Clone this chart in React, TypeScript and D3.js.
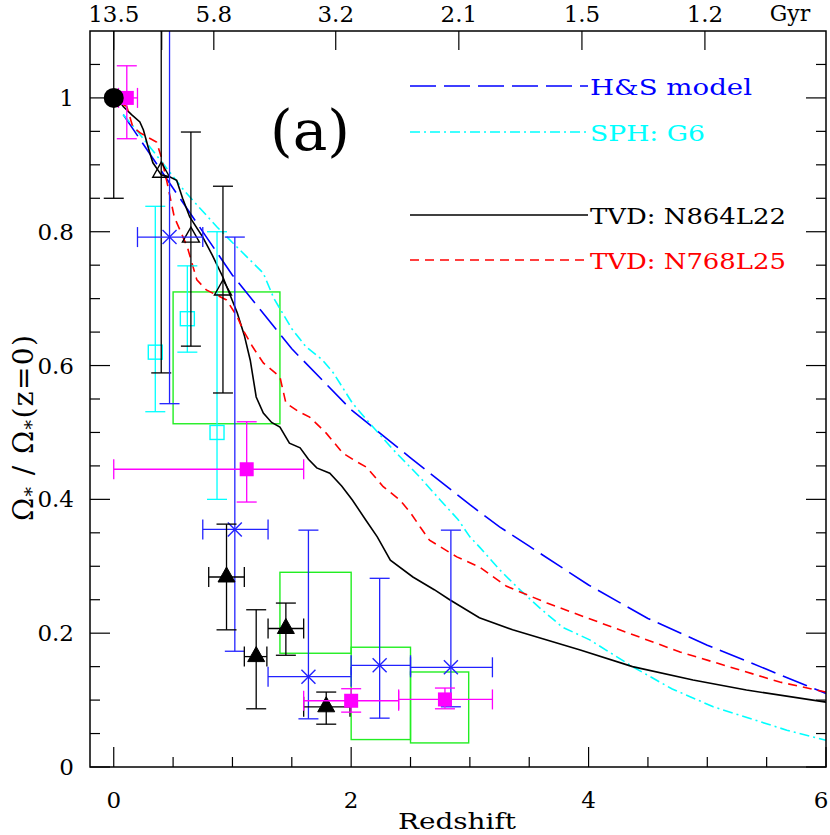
import * as d3 from 'd3';

// model curves: [redshift, Omega*/Omega*(z=0)]
const hsModel: [number, number][] = [
  [0.08, 0.975], [0.5, 0.865], [1.0, 0.735], [1.5, 0.625], [2.0, 0.534], [2.5, 0.462],
  [3.0, 0.392], [3.25, 0.359], [3.5, 0.33], [4.0, 0.272], [4.5, 0.222], [5.0, 0.182],
  [5.5, 0.146], [6.0, 0.11],
];

const sphG6: [number, number][] = [
  [0.08, 0.975], [0.2, 0.95], [0.41, 0.903], [0.6, 0.86], [0.87, 0.807], [1.05, 0.775],
  [1.26, 0.738], [1.35, 0.7], [1.5, 0.655], [1.62, 0.628], [1.76, 0.608], [1.85, 0.589],
  [2.01, 0.544], [2.13, 0.519], [2.35, 0.475], [2.58, 0.433], [2.75, 0.399], [2.9, 0.37],
  [3.0, 0.344], [3.08, 0.329], [3.25, 0.295], [3.42, 0.265], [3.6, 0.236], [3.78, 0.209],
  [4.01, 0.19], [4.37, 0.15], [4.7, 0.117], [5.05, 0.09], [5.67, 0.055], [6.0, 0.04],
];

const tvdN864: [number, number][] = [
  [0.05, 0.995], [0.08, 0.987], [0.15, 0.975], [0.22, 0.964], [0.25, 0.952], [0.3, 0.92],
  [0.33, 0.903], [0.4, 0.885], [0.47, 0.882], [0.53, 0.877], [0.58, 0.85], [0.64, 0.822],
  [0.75, 0.792], [0.83, 0.765], [0.92, 0.732], [1.04, 0.679], [1.1, 0.645], [1.15, 0.608],
  [1.2, 0.553], [1.26, 0.529], [1.33, 0.515], [1.4, 0.508], [1.48, 0.484], [1.57, 0.477],
  [1.64, 0.46], [1.71, 0.447], [1.82, 0.439], [1.92, 0.42], [2.01, 0.399], [2.12, 0.37],
  [2.22, 0.344], [2.33, 0.309], [2.52, 0.284], [2.7, 0.265], [2.83, 0.25], [3.08, 0.223],
  [3.36, 0.205], [3.93, 0.175], [4.37, 0.15], [4.88, 0.13], [5.33, 0.115], [6.0, 0.097],
];

const tvdN768: [number, number][] = [
  [0.08, 0.99], [0.11, 0.987], [0.16, 0.957], [0.22, 0.948], [0.28, 0.942], [0.36, 0.934],
  [0.4, 0.912], [0.45, 0.873], [0.51, 0.822], [0.62, 0.777], [0.7, 0.728], [0.78, 0.713],
  [0.87, 0.705], [0.95, 0.698], [1.04, 0.673], [1.09, 0.653], [1.17, 0.628], [1.26, 0.604],
  [1.4, 0.583], [1.45, 0.544], [1.55, 0.532], [1.65, 0.523], [1.79, 0.499], [1.93, 0.469],
  [2.03, 0.458], [2.13, 0.448], [2.27, 0.419], [2.41, 0.399], [2.5, 0.38], [2.58, 0.359],
  [2.66, 0.339], [2.89, 0.314], [3.08, 0.299], [3.31, 0.27], [3.65, 0.245], [4.2, 0.209],
  [4.77, 0.172], [5.61, 0.127], [6.0, 0.112],
];

// observations: [z, value, zLo, zHi, lo, hi]  (null = no bar in that direction)
type Obs = [number, number, number | null, number | null, number, number];

const localPoint: Obs[] = [[0, 1.0, null, null, 0.85, 1.2]];
const magentaPts: Obs[] = [
  [0.11, 1.0, 0.04, 0.2, 0.939, 1.048],
  [1.12, 0.445, 0.0, 1.6, 0.396, 0.516],
  [2.0, 0.099, 1.6, 2.4, 0.082, 0.117],
  [2.79, 0.101, 2.4, 3.19, 0.087, 0.118],
];
const openTriPts: Obs[] = [
  [0.4, 0.889, null, null, 0.589, 1.2],
  [0.65, 0.792, null, null, 0.629, 0.949],
  [0.92, 0.713, null, null, 0.559, 0.868],
];
const crossPts: Obs[] = [
  [0.47, 0.792, 0.2, 0.75, 0.543, 1.2],
  [1.02, 0.355, 0.75, 1.3, 0.173, 0.792],
  [1.64, 0.135, 1.3, 2.0, 0.072, 0.354],
  [2.24, 0.152, 2.0, 2.5, 0.073, 0.282],
  [2.84, 0.149, 2.5, 3.19, 0.09, 0.354],
];
const cyanPts: Obs[] = [
  [0.35, 0.62, null, null, 0.531, 0.838],
  [0.62, 0.67, null, null, 0.62, 0.749],
  [0.87, 0.5, null, null, 0.4, 0.8],
];
const filledTriPts: Obs[] = [
  [0.95, 0.284, 0.8, 1.1, 0.205, 0.363],
  [1.2, 0.165, 1.1, 1.29, 0.087, 0.235],
  [1.45, 0.207, 1.3, 1.6, 0.167, 0.245],
  [1.79, 0.09, 1.6, 1.99, 0.064, 0.112],
];
// green boxes: [zLo, zHi, lo, hi]
const boxes: [number, number, number, number][] = [
  [0.5, 1.4, 0.513, 0.71],
  [1.4, 2.0, 0.17, 0.291],
  [2.0, 2.5, 0.041, 0.179],
  [2.5, 2.99, 0.036, 0.142],
];

// top axis: lookback time ticks (at redshift) and labels
const gyrTicks = [0, 0.404, 0.843, 1.87, 2.907, 3.944, 4.98];
const gyrLabels = ['13.5', '', '5.8', '3.2', '2.1', '1.5', '1.2'];
const xLabels = [0, 2, 4, 6];
const yLabels = [0, 0.2, 0.4, 0.6, 0.8, 1];

const legend = [
  { name: 'H&S model', color: '#0000ff', dash: '26,8', len: 162 },
  { name: 'SPH: G6', color: '#00ffff', dash: '10,4,2,4', len: 115 },
  { name: 'TVD: N864L22', color: '#000000', dash: '', len: 196 },
  { name: 'TVD: N768L25', color: '#ff0000', dash: '9,6', len: 196 },
];
const legendY = [86, 132, 215, 260];

const SERIF = { fontFamily: "'DejaVu Serif', serif" };

export default function App() {
  const W = 830;
  const H = 835;
  const x = d3.scaleLinear().domain([-0.2, 6]).range([90, 826]);
  const y = d3.scaleLinear().domain([0, 1.1]).range([767, 31]);
  const [x0, x1] = x.range();
  const [y0, y1] = y.range();

  const line = d3.line<[number, number]>().x((d) => x(d[0])).y((d) => y(d[1]));
  const cap = 10;

  const errorBars = (pts: Obs[], color: string, key: string) => pts.map((p, i) => {
    const [z, v, zl, zh, lo, hi] = p;
    const cx = x(z);
    const cy = y(v);
    return (
      <g key={key + i} stroke={color} strokeWidth={1.3} fill="none">
        <line x1={cx} x2={cx} y1={y(lo)} y2={y(hi)} />
        <line x1={cx - cap} x2={cx + cap} y1={y(lo)} y2={y(lo)} />
        <line x1={cx - cap} x2={cx + cap} y1={y(hi)} y2={y(hi)} />
        {zl !== null && zh !== null && (
          <>
            <line x1={x(zl)} x2={x(zh)} y1={cy} y2={cy} />
            <line x1={x(zl)} x2={x(zl)} y1={cy - cap} y2={cy + cap} />
            <line x1={x(zh)} x2={x(zh)} y1={cy - cap} y2={cy + cap} />
          </>
        )}
      </g>
    );
  });

  const tri = (cx: number, cy: number) => `M${cx},${cy - 10}L${cx + 8.5},${cy + 5}L${cx - 8.5},${cy + 5}Z`;

  const minorX = d3.range(0, 6.01, 0.5);
  const minorY = d3.range(0, 1.1, 0.05);

  return (
    <svg width={W} height={H} style={{ position: 'absolute', left: 0, top: 0, background: '#fff' }}>
      <defs>
        <clipPath id="plot">
          <rect x={x0} y={y1} width={x1 - x0} height={y0 - y1} />
        </clipPath>
      </defs>

      <g clipPath="url(#plot)">
        {boxes.map((b, i) => (
          <rect key={'b' + i} x={x(b[0])} y={y(b[3])} width={x(b[1]) - x(b[0])} height={y(b[2]) - y(b[3])}
            fill="none" stroke="#22ee22" strokeWidth={1.4} />
        ))}

        <path d={line(hsModel) ?? ''} fill="none" stroke="#0000ff" strokeWidth={1.6} strokeDasharray="26,8" />
        <path d={line(sphG6) ?? ''} fill="none" stroke="#00ffff" strokeWidth={1.6} strokeDasharray="10,4,2,4" />
        <path d={line(tvdN864) ?? ''} fill="none" stroke="#000" strokeWidth={1.6} />
        <path d={line(tvdN768) ?? ''} fill="none" stroke="#ff0000" strokeWidth={1.6} strokeDasharray="9,6" />

        {errorBars(cyanPts, '#00ffff', 'c')}
        {cyanPts.map((p, i) => (
          <rect key={'cs' + i} x={x(p[0]) - 7} y={y(p[1]) - 7} width={14} height={14}
            fill="none" stroke="#00ffff" strokeWidth={1.4} />
        ))}

        {errorBars(openTriPts, '#000', 't')}
        {openTriPts.map((p, i) => (
          <path key={'ot' + i} d={tri(x(p[0]), y(p[1]))} fill="none" stroke="#000" strokeWidth={1.4} />
        ))}

        {errorBars(crossPts, '#2222ff', 'x')}
        {crossPts.map((p, i) => {
          const cx = x(p[0]);
          const cy = y(p[1]);
          return (
            <g key={'xs' + i} stroke="#2222ff" strokeWidth={1.4}>
              <line x1={cx - 7} x2={cx + 7} y1={cy - 7} y2={cy + 7} />
              <line x1={cx - 7} x2={cx + 7} y1={cy + 7} y2={cy - 7} />
            </g>
          );
        })}

        {errorBars(filledTriPts, '#000', 'f')}
        {filledTriPts.map((p, i) => (
          <path key={'ft' + i} d={tri(x(p[0]), y(p[1]))} fill="#000" stroke="#000" strokeWidth={1} />
        ))}

        {errorBars(localPoint, '#000', 'l')}
        {errorBars(magentaPts, '#ff00ff', 'm')}
        {magentaPts.map((p, i) => (
          <rect key={'ms' + i} x={x(p[0]) - 7} y={y(p[1]) - 7} width={14} height={14} fill="#ff00ff" />
        ))}
        {localPoint.map((p, i) => (
          <circle key={'lp' + i} cx={x(p[0])} cy={y(p[1])} r={10} fill="#000" />
        ))}
      </g>

      {/* frame and ticks */}
      <rect x={x0} y={y1} width={x1 - x0} height={y0 - y1} fill="none" stroke="#000" strokeWidth={1.5} />
      <g stroke="#000" strokeWidth={1.2}>
        {minorX.map((v) => {
          const major = Math.abs(v % 2) < 1e-6;
          return <line key={'tx' + v} x1={x(v)} x2={x(v)} y1={y0} y2={y0 - (major ? 20 : 10)} />;
        })}
        {minorY.map((v) => {
          const major = Math.abs((v / 0.2) - Math.round(v / 0.2)) < 1e-6;
          const len = major ? 20 : 10;
          return (
            <g key={'ty' + v}>
              <line x1={x0} x2={x0 + len} y1={y(v)} y2={y(v)} />
              <line x1={x1} x2={x1 - len} y1={y(v)} y2={y(v)} />
            </g>
          );
        })}
        {gyrTicks.map((v) => (
          <line key={'tg' + v} x1={x(v)} x2={x(v)} y1={y1} y2={y1 + 19} />
        ))}
      </g>

      {/* tick labels */}
      <g fill="#000" style={SERIF}>
        {xLabels.map((v) => (
          <text key={'lx' + v} x={v === 6 ? x(v) - 5 : x(v)} y={808} textAnchor="middle"
            fontSize={23}>{v}</text>
        ))}
        {yLabels.map((v) => (
          <text key={'ly' + v} x={74} y={y(v) + 8} textAnchor="end" fontSize={23}>{v}</text>
        ))}
        {gyrTicks.map((v, i) => (
          <text key={'lg' + v} x={x(v)} y={22} textAnchor="middle" fontSize={23}>{gyrLabels[i]}</text>
        ))}
        <text x={790} y={21} textAnchor="middle" fontSize={22}>Gyr</text>
        <text x={457} y={829} textAnchor="middle" fontSize={22} textLength={118}
          lengthAdjust="spacingAndGlyphs">Redshift</text>
      </g>

      <text transform="translate(33,428) rotate(-90)" textAnchor="middle" fontSize={28} fill="#000"
        style={SERIF} textLength={186} lengthAdjust="spacing">
        Ω<tspan baselineShift="-25%" fontSize={19}>*</tspan>
        <tspan> / Ω</tspan>
        <tspan baselineShift="-25%" fontSize={19}>*</tspan>
        <tspan>(z=0)</tspan>
      </text>

      <text x={310} y={150} textAnchor="middle" fontSize={56} fill="#000" style={SERIF}
        textLength={80} lengthAdjust="spacingAndGlyphs">(a)</text>

      {/* legend */}
      {legend.map((l, i) => (
        <g key={'lg' + l.name}>
          <line x1={410} x2={588} y1={legendY[i]} y2={legendY[i]} stroke={l.color} strokeWidth={1.6}
            strokeDasharray={l.dash || undefined} />
          <text x={590} y={legendY[i] + 9} fontSize={22} fill={l.color} textLength={l.len}
            lengthAdjust="spacingAndGlyphs" style={SERIF}>{l.name}</text>
        </g>
      ))}
    </svg>
  );
}
